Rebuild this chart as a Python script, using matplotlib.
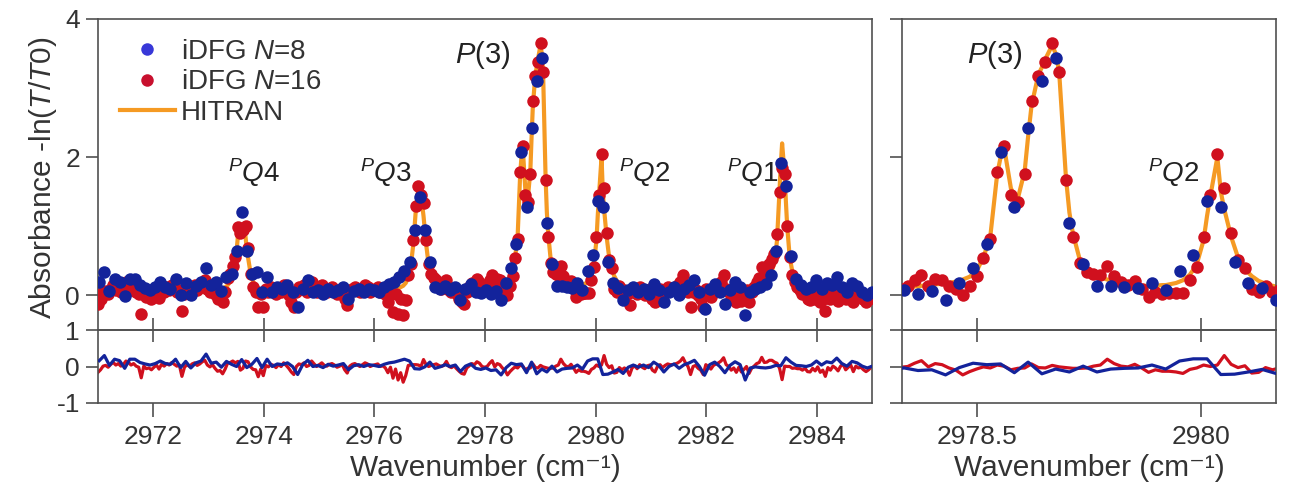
import numpy as np
import matplotlib
matplotlib.use('Agg')
import matplotlib.pyplot as plt
from matplotlib.lines import Line2D

plt.rcParams['font.family'] = ['Liberation Sans', 'DejaVu Sans']
plt.rcParams['mathtext.fontset'] = 'custom'
plt.rcParams['mathtext.rm'] = 'Liberation Sans'
plt.rcParams['mathtext.it'] = 'Liberation Sans:italic'
plt.rcParams['axes.unicode_minus'] = False

# sampling grids (start, step in cm-1)
n16_start, n16_step = 2971.0, 0.046
n8_start, n8_step = 2971.023, 0.092

# iDFG N=16 absorbance (red points)
n16 = [
    -0.12, -0.05, 0.05, 0.07, 0.02, 0.10, 0.15, 0.08, 0.12, 0.05,
    0.10, 0.19, 0.15, 0.08, 0.12, 0.05, 0.02, -0.27, 0.05, -0.02,
    0.00, -0.05, 0.02, 0.08, -0.03, 0.10, 0.05, 0.12, 0.08, 0.15,
    0.10, 0.05, 0.08, -0.23, 0.02, 0.10, 0.05, 0.12, 0.15, 0.08,
    0.12, 0.18, 0.22, 0.10, 0.05, 0.12, 0.02, -0.05, -0.02, -0.10,
    0.05, 0.25, 0.31, 0.43, 0.55, 0.99, 0.90, 0.95, 1.00, 0.68,
    0.31, 0.12, 0.05, -0.17, 0.02, -0.17, 0.10, 0.05, 0.12, 0.08,
    0.02, 0.10, 0.05, 0.15, 0.08, 0.00, -0.10, -0.17, 0.05, 0.12,
    0.10, 0.15, 0.05, 0.08, 0.20, 0.12, 0.05, 0.10, 0.15, 0.08,
    0.05, 0.10, 0.12, 0.08, 0.02, 0.05, 0.10, -0.05, -0.14, 0.05,
    0.10, 0.12, 0.08, 0.05, 0.10, 0.15, 0.12, 0.05, 0.08, 0.10,
    0.12, 0.05, 0.08, 0.02, -0.10, 0.05, -0.24, 0.02, -0.27, -0.05,
    -0.29, -0.07, 0.29, 0.46, 0.80, 1.30, 1.59, 1.45, 1.34, 0.80,
    0.45, 0.31, 0.25, 0.22, 0.15, 0.10, 0.12, 0.22, 0.08, 0.05,
    0.10, 0.02, -0.05, -0.10, -0.12, 0.05, 0.12, 0.18, 0.15, 0.24,
    0.20, 0.12, 0.10, 0.13, 0.22, 0.30, 0.14, 0.24, 0.22, 0.14,
    0.10, 0.00, 0.13, 0.28, 0.54, 0.81, 1.79, 2.16, 1.46, 1.35,
    1.76, 2.82, 3.17, 3.38, 3.65, 3.24, 1.67, 0.85, 0.47, 0.34,
    0.31, 0.30, 0.43, 0.28, 0.19, 0.15, 0.21, 0.10, -0.02, 0.05,
    0.02, 0.03, 0.03, 0.03, 0.22, 0.41, 0.84, 1.45, 2.04, 1.55,
    0.91, 0.52, 0.40, 0.10, 0.05, 0.14, 0.05, 0.08, 0.02, -0.14,
    0.05, 0.10, 0.02, 0.12, 0.05, 0.00, 0.08, 0.10, -0.05, -0.10,
    0.05, 0.10, 0.02, 0.08, 0.12, 0.10, 0.10, 0.12, 0.15, 0.20,
    0.29, 0.15, 0.05, -0.17, 0.05, 0.08, 0.00, -0.05, -0.17, 0.10,
    0.05, -0.02, 0.08, 0.12, 0.15, 0.20, 0.29, 0.10, 0.05, -0.05,
    0.02, -0.10, 0.05, -0.08, 0.00, 0.08, -0.10, 0.05, 0.12, 0.20,
    0.25, 0.41, 0.30, 0.35, 0.45, 0.53, 0.60, 0.89, 1.50, 1.84,
    1.76, 1.00, 0.55, 0.30, 0.20, 0.12, 0.08, 0.02, 0.05, -0.05,
    -0.07, 0.02, -0.05, 0.05, -0.10, -0.05, -0.22, 0.02, -0.05, 0.05,
    0.00, -0.08, 0.05, 0.10, -0.05, 0.02, 0.08, -0.10, 0.05, 0.00,
    0.02, -0.05, -0.10, -0.05, 0.02,
]

# HITRAN absorbance at the N=16 wavenumbers
hitran16 = [
    0.04, 0.04, 0.04, 0.04, 0.04, 0.04, 0.04, 0.04, 0.04, 0.04,
    0.04, 0.04, 0.04, 0.04, 0.04, 0.04, 0.04, 0.04, 0.04, 0.04,
    0.04, 0.04, 0.04, 0.04, 0.04, 0.04, 0.04, 0.04, 0.04, 0.04,
    0.04, 0.04, 0.04, 0.04, 0.04, 0.05, 0.05, 0.05, 0.05, 0.05,
    0.05, 0.05, 0.05, 0.06, 0.06, 0.07, 0.07, 0.08, 0.09, 0.10,
    0.12, 0.15, 0.20, 0.28, 0.45, 0.85, 1.00, 1.00, 0.85, 0.55,
    0.32, 0.20, 0.14, 0.11, 0.09, 0.08, 0.07, 0.06, 0.06, 0.05,
    0.05, 0.05, 0.05, 0.05, 0.05, 0.05, 0.05, 0.05, 0.05, 0.05,
    0.05, 0.05, 0.05, 0.05, 0.05, 0.05, 0.05, 0.05, 0.05, 0.05,
    0.04, 0.04, 0.04, 0.04, 0.04, 0.04, 0.04, 0.04, 0.04, 0.04,
    0.04, 0.04, 0.04, 0.05, 0.05, 0.05, 0.05, 0.05, 0.05, 0.05,
    0.05, 0.05, 0.06, 0.06, 0.07, 0.07, 0.08, 0.09, 0.10, 0.12,
    0.14, 0.18, 0.26, 0.42, 0.75, 1.25, 1.55, 1.45, 1.15, 0.75,
    0.45, 0.28, 0.20, 0.15, 0.12, 0.10, 0.09, 0.08, 0.08, 0.08,
    0.08, 0.08, 0.08, 0.09, 0.09, 0.09, 0.10, 0.10, 0.10, 0.11,
    0.11, 0.12, 0.12, 0.13, 0.13, 0.14, 0.15, 0.16, 0.17, 0.18,
    0.20, 0.23, 0.27, 0.35, 0.55, 0.85, 1.75, 2.15, 1.55, 1.40,
    1.80, 2.75, 3.20, 3.42, 3.62, 3.25, 1.70, 0.90, 0.52, 0.38,
    0.30, 0.26, 0.23, 0.20, 0.18, 0.16, 0.15, 0.14, 0.14, 0.14,
    0.15, 0.16, 0.18, 0.22, 0.30, 0.45, 0.80, 1.45, 2.00, 1.25,
    0.85, 0.55, 0.38, 0.28, 0.21, 0.17, 0.14, 0.12, 0.11, 0.10,
    0.09, 0.08, 0.08, 0.07, 0.07, 0.06, 0.06, 0.06, 0.05, 0.05,
    0.05, 0.05, 0.05, 0.05, 0.05, 0.05, 0.05, 0.05, 0.05, 0.05,
    0.05, 0.05, 0.05, 0.05, 0.05, 0.05, 0.05, 0.05, 0.05, 0.05,
    0.05, 0.05, 0.05, 0.05, 0.05, 0.05, 0.05, 0.05, 0.05, 0.05,
    0.06, 0.06, 0.07, 0.07, 0.08, 0.08, 0.09, 0.10, 0.11, 0.12,
    0.14, 0.16, 0.19, 0.23, 0.28, 0.36, 0.48, 0.80, 1.55, 2.20,
    1.75, 1.00, 0.55, 0.35, 0.24, 0.18, 0.14, 0.12, 0.10, 0.09,
    0.08, 0.07, 0.07, 0.06, 0.06, 0.05, 0.05, 0.05, 0.05, 0.04,
    0.04, 0.04, 0.04, 0.04, 0.04, 0.04, 0.04, 0.04, 0.04, 0.04,
    0.04, 0.04, 0.04, 0.04, 0.04,
]

# iDFG N=8 absorbance (blue points)
n8 = [
    0.20, 0.34, 0.07, 0.24, 0.20, -0.01, 0.24, 0.24, 0.15, 0.11,
    0.08, 0.12, 0.19, 0.12, 0.10, 0.24, 0.01, 0.18, 0.00, 0.14,
    0.20, 0.39, 0.15, 0.19, 0.07, 0.27, 0.31, 0.65, 1.21, 0.65,
    0.31, 0.34, 0.05, 0.26, 0.05, 0.12, 0.10, 0.15, 0.05, -0.17,
    0.10, 0.22, 0.05, 0.08, 0.02, 0.10, 0.05, 0.08, 0.12, -0.05,
    0.06, 0.10, 0.05, 0.10, 0.08, 0.05, 0.12, 0.17, 0.20, 0.27,
    0.36, 0.48, 0.94, 1.43, 0.94, 0.48, 0.12, 0.10, 0.14, 0.08,
    0.12, -0.06, 0.10, 0.17, 0.05, 0.03, 0.08, 0.02, 0.06, -0.06,
    0.18, 0.40, 0.75, 2.07, 1.28, 2.42, 3.10, 3.43, 1.05, 0.46,
    0.13, 0.14, 0.12, 0.11, 0.18, 0.08, 0.35, 0.58, 1.36, 1.28,
    0.49, 0.18, 0.11, -0.06, 0.08, 0.12, 0.05, 0.10, 0.02, 0.17,
    0.08, -0.10, 0.05, 0.12, 0.00, 0.10, 0.15, 0.22, 0.05, -0.19,
    0.10, 0.17, 0.05, -0.12, 0.08, 0.19, 0.12, -0.29, 0.05, 0.10,
    0.12, 0.17, 0.30, 0.65, 1.92, 1.59, 0.57, 0.24, 0.15, 0.10,
    0.12, 0.22, 0.10, 0.18, 0.15, 0.27, 0.12, 0.05, 0.18, 0.14,
    0.05, 0.00, 0.05,
]

# HITRAN absorbance at the N=8 wavenumbers
hitran8 = [
    0.04, 0.04, 0.04, 0.04, 0.04, 0.04, 0.04, 0.04, 0.04, 0.04,
    0.04, 0.04, 0.04, 0.04, 0.04, 0.04, 0.04, 0.04, 0.04, 0.04,
    0.05, 0.05, 0.06, 0.07, 0.09, 0.13, 0.25, 0.65, 1.02, 0.68,
    0.25, 0.12, 0.08, 0.06, 0.05, 0.05, 0.05, 0.05, 0.05, 0.05,
    0.05, 0.05, 0.05, 0.05, 0.05, 0.04, 0.04, 0.04, 0.04, 0.04,
    0.04, 0.05, 0.05, 0.05, 0.05, 0.05, 0.06, 0.07, 0.08, 0.11,
    0.16, 0.33, 1.00, 1.50, 0.95, 0.36, 0.17, 0.11, 0.09, 0.08,
    0.08, 0.08, 0.09, 0.10, 0.10, 0.11, 0.12, 0.13, 0.15, 0.17,
    0.21, 0.31, 0.70, 2.00, 1.45, 2.30, 3.30, 3.50, 1.20, 0.45,
    0.28, 0.21, 0.17, 0.15, 0.14, 0.15, 0.20, 0.37, 1.15, 1.50,
    0.70, 0.33, 0.19, 0.13, 0.10, 0.08, 0.07, 0.06, 0.05, 0.05,
    0.05, 0.05, 0.05, 0.05, 0.05, 0.05, 0.05, 0.05, 0.05, 0.05,
    0.05, 0.05, 0.05, 0.05, 0.05, 0.06, 0.07, 0.08, 0.09, 0.11,
    0.15, 0.21, 0.32, 0.62, 1.90, 1.35, 0.45, 0.21, 0.13, 0.10,
    0.08, 0.07, 0.06, 0.05, 0.05, 0.04, 0.04, 0.04, 0.04, 0.04,
    0.04, 0.04, 0.04,
]

left_ticks = [2972, 2974, 2976, 2978, 2980, 2982, 2984]
right_ticks = [2978.5, 2980]
right_tick_labels = ['2978.5', '2980']

left_peaks = [(2973.83, 1.78, r'${}^{P}Q$4'), (2976.2, 1.78, r'${}^{P}Q$3'),
              (2977.96, 3.48, r'$P$(3)'), (2980.89, 1.78, r'${}^{P}Q$2'),
              (2982.85, 1.78, r'${}^{P}Q$1')]
right_peaks = [(2978.62, 3.48, r'$P$(3)'), (2979.82, 1.78, r'${}^{P}Q$2')]

BLUE = '#13239b'
RED = '#d0101e'
ORANGE = '#f59a23'
FRAME = '#505050'
TEXT = '#333333'

x16 = n16_start + n16_step * np.arange(len(n16))
x8 = n8_start + n8_step * np.arange(len(n8))
n16 = np.array(n16)
n8 = np.array(n8)
hitran16 = np.array(hitran16)
hitran8 = np.array(hitran8)

hx = np.concatenate([x16, x8])
hy = np.concatenate([hitran16, hitran8])
order = np.argsort(hx)
hx, hy = hx[order], hy[order]

res16 = n16 - hitran16
res8 = n8 - hitran8

W, H = 1291, 497
fig = plt.figure(figsize=(W / 100, H / 100), dpi=100)


def box(px_left, px_top, px_w, px_h):
    return [px_left / W, 1 - (px_top + px_h) / H, px_w / W, px_h / H]


def style(ax):
    for s in ax.spines.values():
        s.set_color(FRAME)
        s.set_linewidth(1.2)
    ax.tick_params(colors=FRAME, labelcolor=TEXT, width=1.2, labelsize=19)


def label_peaks(ax, peaks):
    for x, y, s in peaks:
        size = 21 if s.startswith('$P') else 20
        ax.text(x, y, s, ha='center', va='center', fontsize=size, color='#222222')


def draw_main(ax, xlim):
    ax.plot(hx, hy, color=ORANGE, lw=3, zorder=2)
    ax.plot(x16, n16, 'o', color=RED, ms=9, mew=0, zorder=3)
    ax.plot(x8, n8, 'o', color=BLUE, ms=9, mew=0, zorder=4)
    ax.set_xlim(*xlim)
    ax.set_ylim(-0.5, 4)
    ax.set_yticks([0, 2, 4])
    style(ax)
    ax.tick_params(axis='x', direction='inout', length=17, labelbottom=False)
    ax.tick_params(axis='y', direction='out', length=9, pad=4)


def draw_res(ax, xlim):
    ax.plot(x16, res16, color=RED, lw=2.3, zorder=2)
    ax.plot(x8, res8, color=BLUE, lw=2.3, zorder=3)
    ax.set_xlim(*xlim)
    ax.set_ylim(-1, 1)
    ax.set_yticks([-1, 0, 1])
    ax.set_facecolor('none')
    style(ax)
    ax.tick_params(axis='x', direction='out', length=10, pad=6)
    ax.tick_params(axis='y', direction='out', length=9, pad=4)
    ax.set_xlabel('Wavenumber (cm\u207b\u00b9)', fontsize=21.5, color=TEXT)
    ax.xaxis.set_label_coords(0.5, -0.7)


# left panel
ax1 = fig.add_axes(box(98, 19, 774, 311))
ax1r = fig.add_axes(box(98, 330, 774, 73))
draw_main(ax1, (2971, 2985))
ax1.set_xticks(left_ticks)
ax1.set_yticklabels(['0', '2', '4'])
ax1.set_ylabel(r'Absorbance -ln($T$/$T0$)', fontsize=21.5, color=TEXT)
ax1.yaxis.set_label_coords(-0.05, 0.49)
label_peaks(ax1, left_peaks)

draw_res(ax1r, (2971, 2985))
ax1r.set_xticks(left_ticks, [str(t) for t in left_ticks])
ax1r.set_yticklabels(['-1', '0', '1'])

handles = [Line2D([], [], marker='o', ls='none', color='#3838d8', ms=9, mew=0),
           Line2D([], [], marker='o', ls='none', color='#c8102e', ms=9, mew=0),
           Line2D([], [], color=ORANGE, lw=3)]
ax1.legend(handles, [r'iDFG $N$=8', r'iDFG $N$=16', 'HITRAN'],
           loc='upper left', bbox_to_anchor=(0.028, 0.935), frameon=False,
           fontsize=20, handlelength=2.0, handletextpad=0.2,
           labelspacing=0.15, borderpad=0, borderaxespad=0, labelcolor=TEXT)

# right panel (zoom on P(3) and PQ2)
ax2 = fig.add_axes(box(902, 19, 374, 311))
ax2r = fig.add_axes(box(902, 330, 374, 73))
draw_main(ax2, (2978, 2980.5))
ax2.set_xticks(right_ticks)
ax2.tick_params(axis='y', labelleft=False)
label_peaks(ax2, right_peaks)

draw_res(ax2r, (2978, 2980.5))
ax2r.set_xticks(right_ticks, right_tick_labels)
ax2r.tick_params(axis='y', labelleft=False)

fig.savefig('out.png', dpi=100)
